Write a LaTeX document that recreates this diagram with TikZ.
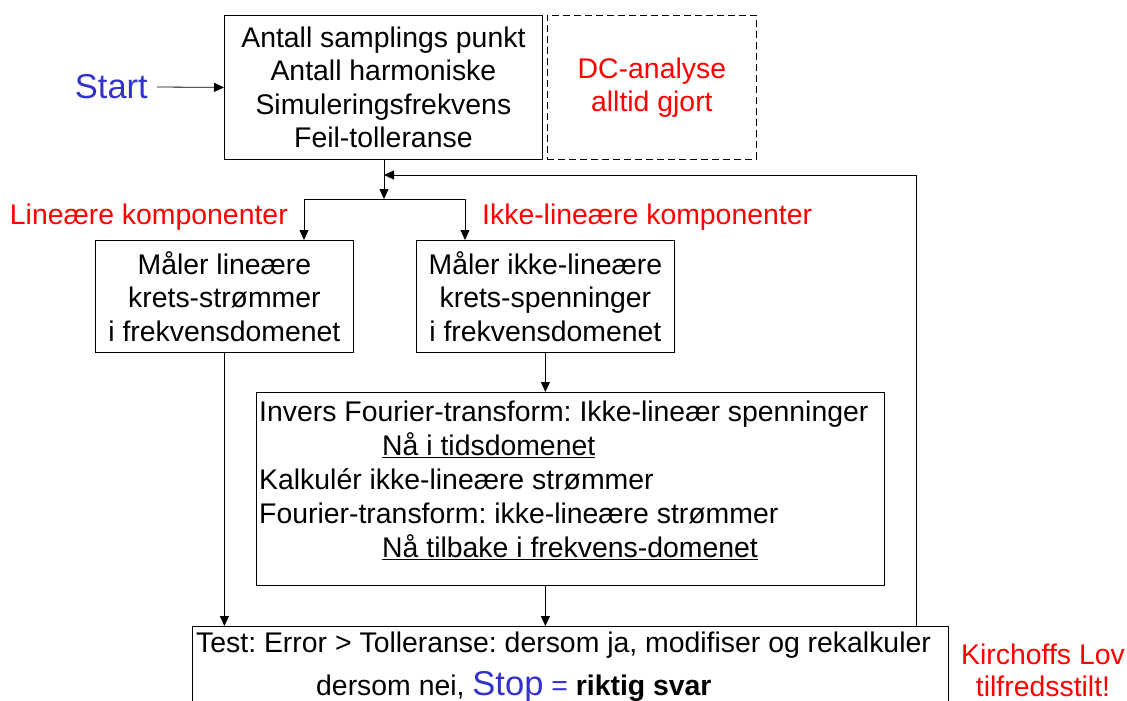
\documentclass[tikz,border=0pt]{standalone}
\usepackage{fontspec}
\setmainfont{Liberation Sans}
\usetikzlibrary{arrows.meta}
\definecolor{stblue}{RGB}{51,51,204}
\definecolor{lred}{RGB}{255,0,0}
\tikzset{
  box/.style={draw, line width=0.8pt, inner sep=0pt, anchor=north west},
  dbox/.style={box, dashed, dash pattern=on 7pt off 4pt},
  txt/.style={font=\fontsize{28.4}{33.3}\selectfont, align=center, inner sep=0pt},
  redtxt/.style={txt, text=lred},
  arr/.style={-{Triangle[length=10pt,width=9pt]}, line width=0.8pt},
  ln/.style={line width=0.8pt},
}
\begin{document}
\frenchspacing
\begin{tikzpicture}[x=1pt,y=-1pt]
\useasboundingbox (0,0) rectangle (1127,701);
% boxes
\node[box, minimum width=318, minimum height=144] (top) at (224,15) {};
\node[txt] (toptxt) at (top.center) {Antall samplings punkt\\Antall harmoniske\\Simuleringsfrekvens\\Feil-tolleranse};
\node[dbox, minimum width=209, minimum height=144] (dc) at (547,15) {};
\node[redtxt] (dctxt) at (dc.center) {DC-analyse\\alltid gjort};
\node[txt, text=stblue, font=\fontsize{34.5}{38}\selectfont, anchor=east] (start) at (148,87) {Start};

\node[box, minimum width=258, minimum height=112] (lin) at (95,240) {};
\node[txt] (lintxt) at (lin.center) {Måler lineære\\krets-strømmer\\i frekvensdomenet};
\node[box, minimum width=258, minimum height=112] (nlin) at (416,240) {};
\node[txt] (nlintxt) at (nlin.center) {Måler ikke-lineære\\krets-spenninger\\i frekvensdomenet};
\node[redtxt, anchor=east] (linlab) at (288,217) {Lineære komponenter};
\node[redtxt, anchor=west] (nlinlab) at (482,217) {Ikke-lineære komponenter};

\node[box, minimum width=628, minimum height=193] (big) at (256,392) {};
\node[txt, align=left, anchor=north west, font=\fontsize{28.4}{34}\selectfont] (bigtxt) at (259,401)
 {Invers Fourier-transform: Ikke-lineær spenninger\\
  \hspace*{123pt}\underline{Nå i tidsdomenet}\\
  Kalkulér ikke-lineære strømmer\\
  Fourier-transform: ikke-lineære strømmer\\
  \hspace*{123pt}\underline{Nå tilbake i frekvens-domenet}};

\node[box, minimum width=756, minimum height=110] (test) at (192,626) {};
\node[txt, anchor=west] (testtxt1) at (196,645) {Test: Error > Tolleranse: dersom ja, modifiser og rekalkuler};
\node[txt, anchor=base west] (testtxt2) at (316,695) {dersom nei, {\color{stblue}\fontsize{34.5}{38}\selectfont Stop} {\color{stblue}=} \textbf{riktig svar}};

\node[redtxt, font=\fontsize{28.4}{32}\selectfont] (kl) at (1043,670) {Kirchoffs Lov\\tilfredsstilt!};

% coordinates
\coordinate (split) at (384,199);
\coordinate (lsplit) at (304,199);
\coordinate (rsplit) at (465,199);
\coordinate (fbtop) at (916,175);
\coordinate (fbin) at (384,175);

% connectors
\draw[arr] ([xshift=9pt]start.east) -- (top.west);
\draw[arr] (top.south -| split) -- (split);
\draw[ln] (lsplit) -- (rsplit);
\draw[arr] (lsplit) -- (lsplit |- lin.north);
\draw[arr] (rsplit) -- (rsplit |- nlin.north);
\draw[arr] (lin.south) -- (lin.south |- test.north);
\draw[arr] (nlin.south) -- (nlin.south |- big.north);
\draw[arr] (big.south -| nlin.south) -- (nlin.south |- test.north);
\draw[arr] (test.north -| fbtop) -- (fbtop) -- (fbin);
\end{tikzpicture}
\end{document}
